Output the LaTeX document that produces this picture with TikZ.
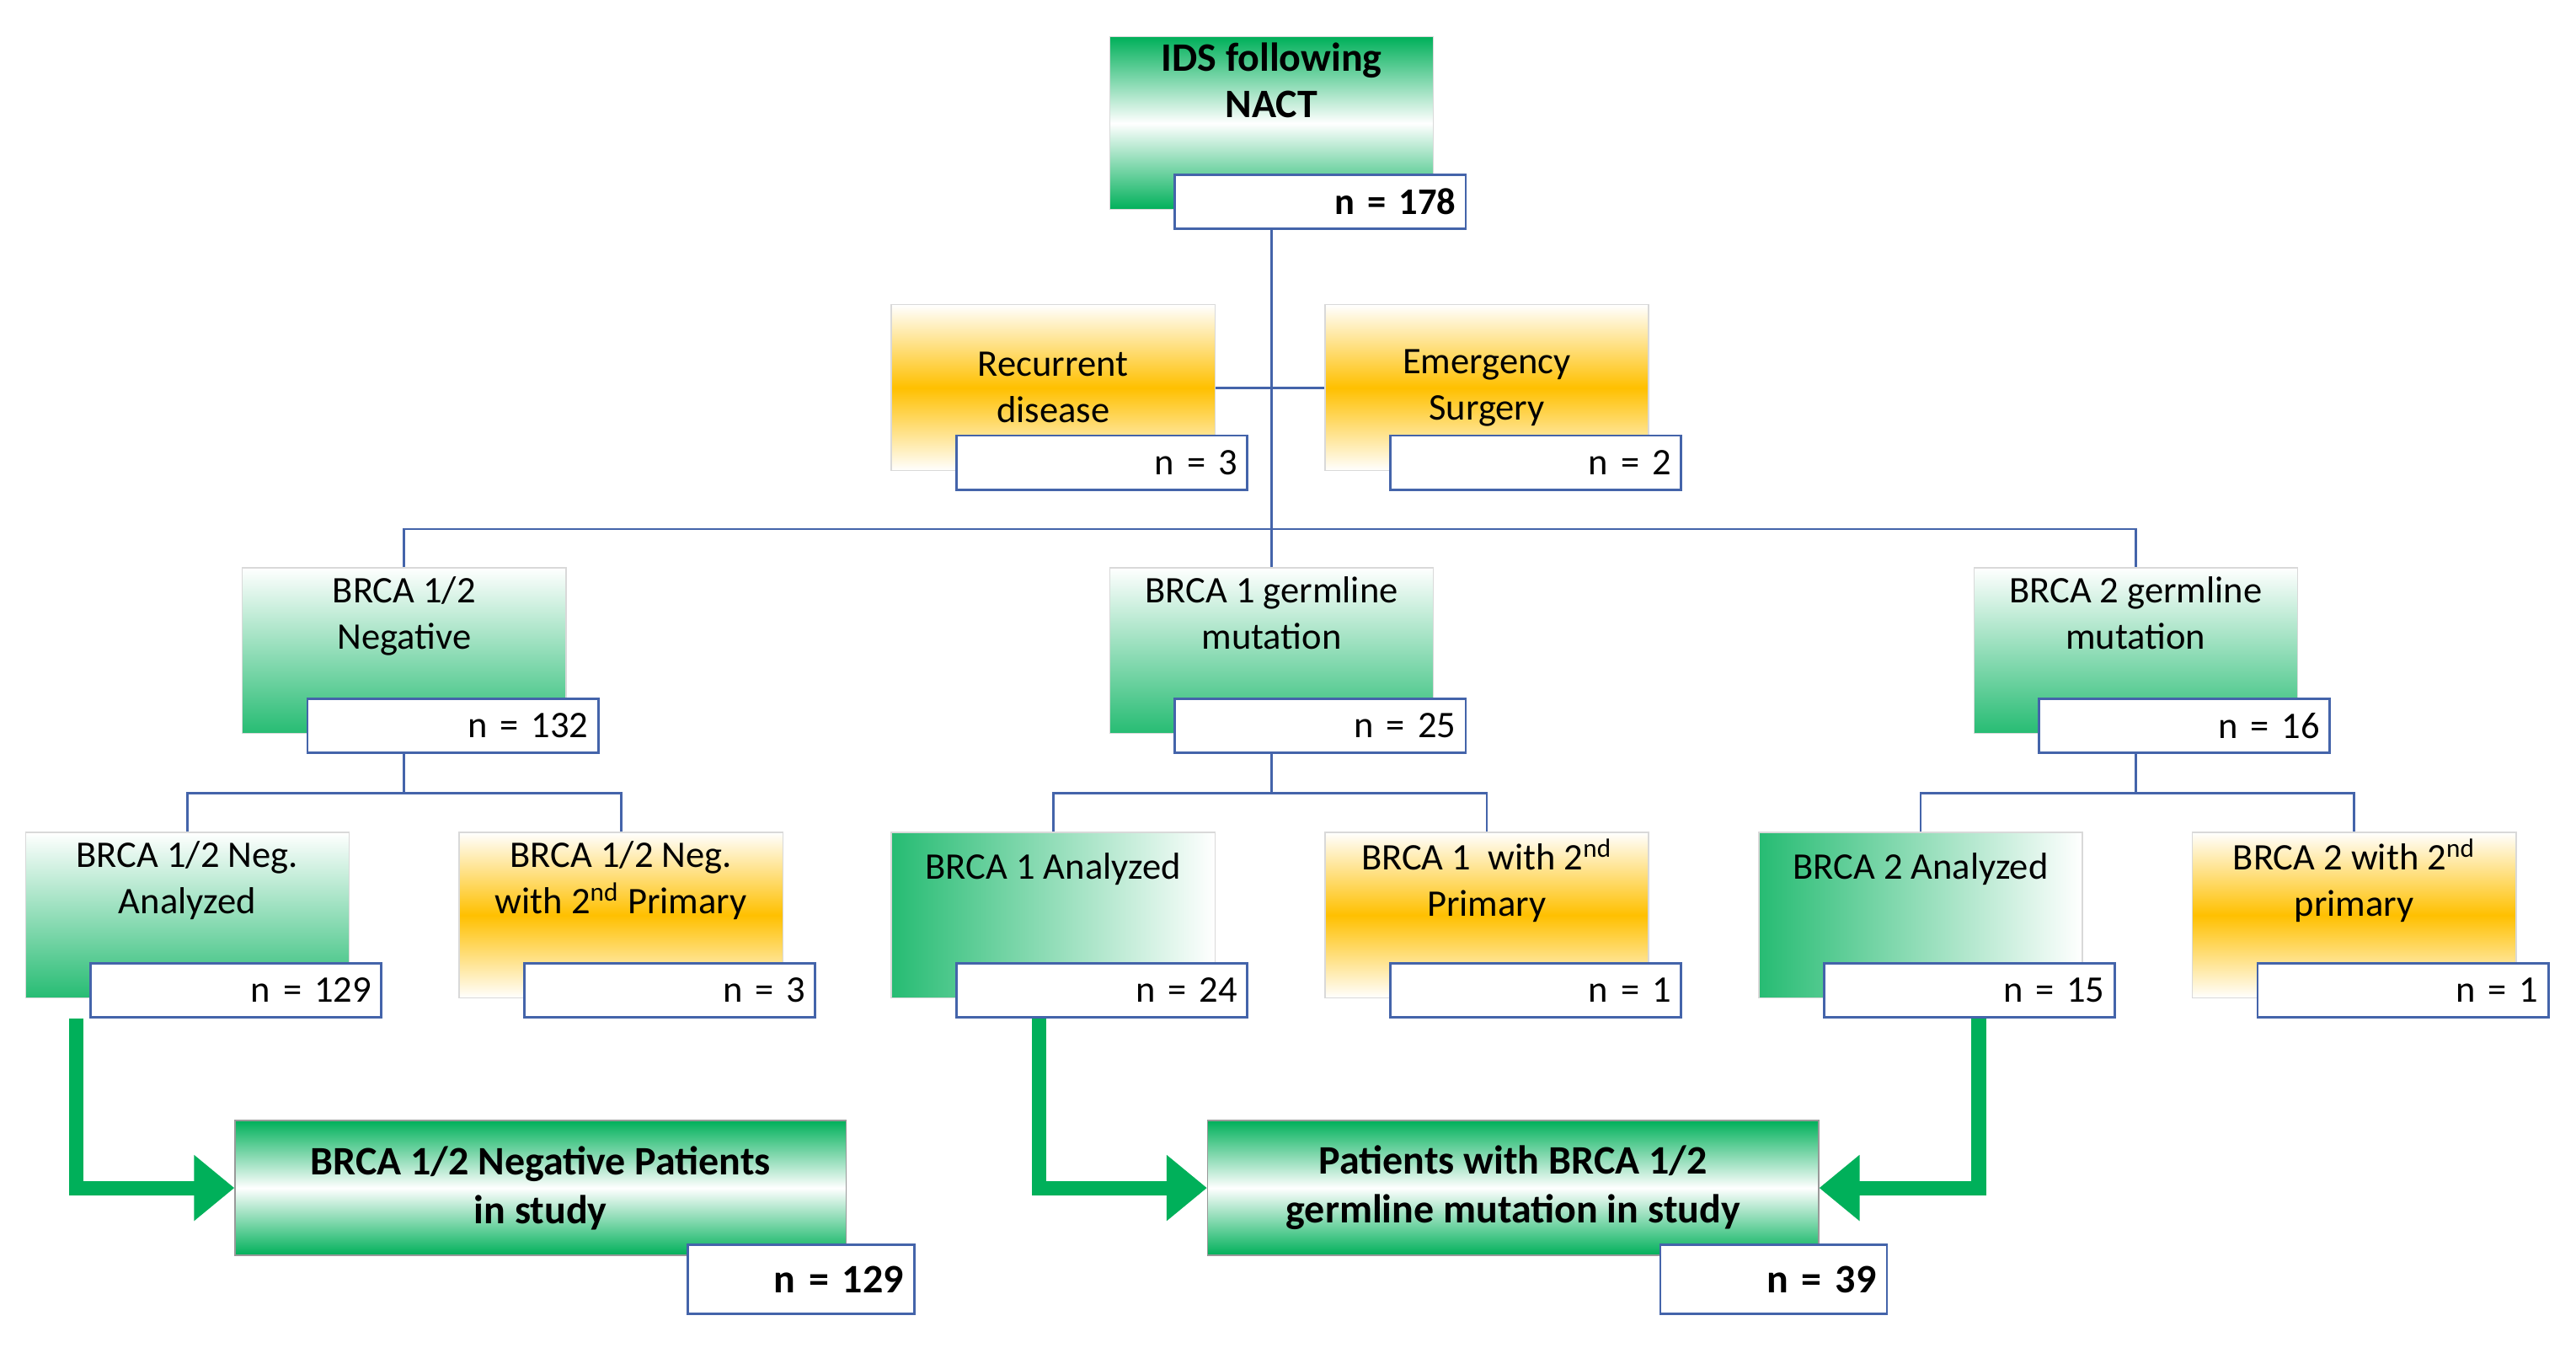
\documentclass[tikz,border=0pt]{standalone}
\usepackage{fontspec}
\setmainfont{Carlito}
\usetikzlibrary{calc,arrows.meta}
\definecolor{boxgreen}{RGB}{0,176,90}
\definecolor{boxorange}{RGB}{255,192,0}
\definecolor{linkblue}{RGB}{68,100,170}

\tikzset{
  box/.style={draw=black!15, minimum width=3.94cm, minimum height=2.02cm,
    align=center, inner sep=2pt, font=\fontsize{13}{16}\selectfont},
  greenbox/.style={box, top color=white, bottom color=boxgreen!85},
  headbox/.style={box, top color=boxgreen, bottom color=boxgreen, middle color=white,
    font=\fontsize{14}{16}\selectfont\bfseries},
  orangebox/.style={box, top color=white, bottom color=white, middle color=boxorange},
  nbox/.style={draw=linkblue, thick, fill=white, minimum width=3.54cm, minimum height=0.66cm,
    anchor=south east, text width=3.3cm, align=right, inner sep=2pt,
    font=\fontsize{13}{16}\selectfont},
  studybox/.style={draw=black!40, minimum width=7.44cm, minimum height=1.64cm, align=center,
    top color=boxgreen, bottom color=boxgreen, middle color=white,
    font=\fontsize{14}{17}\selectfont\bfseries},
  studyn/.style={nbox, minimum width=2.76cm, minimum height=0.84cm, text width=2.5cm,
    font=\fontsize{14}{17}\selectfont\bfseries},
  link/.style={draw=linkblue, thick},
  flow/.style={draw=boxgreen, line width=5pt, -{Triangle[length=14pt,width=22pt]}}
}

\begin{document}
\begin{tikzpicture}[x=0.02cm, y=-0.02cm]
\useasboundingbox (0,0) rectangle (1568,823);

% first box
\node[headbox] (ids) at (774,75) {IDS following\\NACT\\[14pt]};
\node[nbox, font=\fontsize{13}{16}\selectfont\bfseries] (ids-n) at ([shift={(20,12)}]ids.south east) {n = 178};

% excluded
\node[orangebox] (rec) at (641,236) {Recurrent\\disease};
\node[nbox] (rec-n) at ([shift={(20,12)}]rec.south east) {n = 3};
\node[orangebox] (emg) at (905,236) {Emergency\\Surgery};
\node[nbox] (emg-n) at ([shift={(20,12)}]emg.south east) {n = 2};

% BRCA status
\node[greenbox] (neg) at (246,396) {BRCA 1/2\\Negative\\[10pt]};
\node[nbox] (neg-n) at ([shift={(20,12)}]neg.south east) {n = 132};
\node[greenbox] (b1) at (774,396) {BRCA 1 germline\\mutation\\[10pt]};
\node[nbox] (b1-n) at ([shift={(20,12)}]b1.south east) {n = 25};
\node[greenbox] (b2) at (1300,396) {BRCA 2 germline\\mutation\\[10pt]};
\node[nbox] (b2-n) at ([shift={(20,12)}]b2.south east) {n = 16};

% analyzed / second primary
\node[greenbox] (neg-a) at (114,557) {BRCA 1/2 Neg.\\Analyzed\\[10pt]};
\node[nbox] (neg-a-n) at ([shift={(20,12)}]neg-a.south east) {n = 129};
\node[orangebox] (neg-p) at (378,557) {BRCA 1/2 Neg.\\with 2\textsuperscript{nd} Primary\\[10pt]};
\node[nbox] (neg-p-n) at ([shift={(20,12)}]neg-p.south east) {n = 3};
\node[greenbox, left color=boxgreen!85, right color=white] (b1-a) at (641,557) {BRCA 1 Analyzed\\[18pt]};
\node[nbox] (b1-a-n) at ([shift={(20,12)}]b1-a.south east) {n = 24};
\node[orangebox] (b1-p) at (905,557) {BRCA 1~~with 2\textsuperscript{nd}\\Primary\\[10pt]};
\node[nbox] (b1-p-n) at ([shift={(20,12)}]b1-p.south east) {n = 1};
\node[greenbox, left color=boxgreen!85, right color=white] (b2-a) at (1169,557) {BRCA 2 Analyzed\\[18pt]};
\node[nbox] (b2-a-n) at ([shift={(20,12)}]b2-a.south east) {n = 15};
\node[orangebox] (b2-p) at (1433,557) {BRCA 2 with 2\textsuperscript{nd}\\primary\\[10pt]};
\node[nbox] (b2-p-n) at ([shift={(20,12)}]b2-p.south east) {n = 1};

% study groups
\node[studybox] (neg-s) at (329,723) {BRCA 1/2 Negative Patients\\in study};
\node[studyn] (neg-s-n) at ([shift={(42,36)}]neg-s.south east) {n = 129};
\node[studybox] (mut-s) at (921,723) {Patients with BRCA 1/2\\germline mutation in study};
\node[studyn] (mut-s-n) at ([shift={(42,36)}]mut-s.south east) {n = 39};

% connectors
\coordinate (split) at (774,322);
\draw[link] (ids-n.south -| ids) -- (split);
\draw[link] (rec.east) -- (emg.west);
\draw[link] (neg.north) |- (split) -| (b2.north);
\draw[link] (split) -- (b1.north);
\draw[link] (neg-n.south -| neg) -- ++(0,24) -| (neg-a.north);
\draw[link] (neg-n.south -| neg) ++(0,24) -| (neg-p.north);
\draw[link] (b1-n.south -| b1) -- ++(0,24) -| (b1-a.north);
\draw[link] (b1-n.south -| b1) ++(0,24) -| (b1-p.north);
\draw[link] (b2-n.south -| b2) -- ++(0,24) -| (b2-p.north);
\draw[link] (b2-n.south -| b2) ++(0,24) -| (b2-a.north);

% into study
\draw[flow] ($(neg-a-n.south west)+(-8,0)$) |- (neg-s.west);
\draw[flow] ($(b1-a-n.south west)+(51,0)$) |- (mut-s.west);
\draw[flow] ($(b2-a-n.south west)+(95,0)$) |- (mut-s.east);
\end{tikzpicture}
\end{document}
